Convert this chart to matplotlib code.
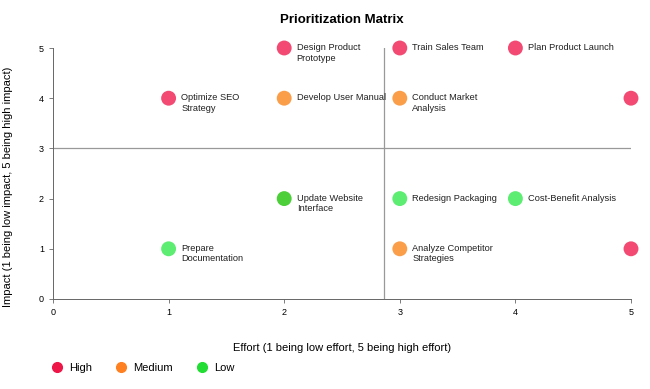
import matplotlib.pyplot as plt
from matplotlib import rcParams
rcParams['font.family'] = ['Liberation Sans', 'DejaVu Sans']

tasks = ['Optimize SEO\nStrategy', 'Design Product\nPrototype', 'Develop User Manual',
         'Train Sales Team', 'Conduct Market\nAnalysis', 'Plan Product Launch', '',
         'Update Website\nInterface', 'Redesign Packaging', 'Cost-Benefit Analysis',
         'Prepare\nDocumentation', 'Analyze Competitor\nStrategies', '']
effort = [1, 2, 2, 3, 3, 4, 5, 2, 3, 4, 1, 3, 5]
impact = [4, 5, 4, 5, 4, 5, 4, 2, 2, 2, 1, 1, 1]
priority = ['High', 'High', 'Medium', 'High', 'Medium', 'High', 'High',
            'Low', 'Low', 'Low', 'Low', 'Medium', 'High']
dot_colors = ['#f24a72', '#f24a72', '#fb9e4a', '#f24a72', '#fb9e4a', '#f24a72', '#f24a72',
              '#4dcf3a', '#5eed73', '#5eed73', '#5eed73', '#fb9e4a', '#f24a72']
effort_split = 2.86
impact_split = 3

legend_names = ['High', 'Medium', 'Low']
legend_colors = ['#ee1547', '#ff8020', '#22dd33']

fig = plt.figure(figsize=(6.5, 3.89), dpi=100)
ax = fig.add_axes([53/650, 1-299/389, 578/650, 251/389])

ax.scatter(effort, impact, s=115, c=dot_colors, zorder=3, clip_on=False, linewidths=0)
for t, x, y in zip(tasks, effort, impact):
    ax.annotate(t, (x, y), xytext=(9, 3.5), textcoords='offset points',
                fontsize=6.7, va='top', ha='left', color='#222222', linespacing=1.2)

ax.axvline(effort_split, color='#999999', lw=0.9)
ax.axhline(impact_split, color='#999999', lw=0.9)

ax.set_xlim(0, 5)
ax.set_ylim(0, 5)
ax.set_xticks(range(6))
ax.set_yticks(range(6))
ax.tick_params(labelsize=6.5, length=3, color='#666666', width=0.6)
for s in ['top', 'right']:
    ax.spines[s].set_visible(False)
for s in ['left', 'bottom']:
    ax.spines[s].set_color('#666666')
    ax.spines[s].set_linewidth(0.7)

ax.set_title('Prioritization Matrix', fontsize=9.5, fontweight='bold', pad=18)
ax.set_xlabel('Effort (1 being low effort, 5 being high effort)', fontsize=8, labelpad=19)
fig.text(8/650, 1-187/389, 'Impact (1 being low impact, 5 being high impact)', fontsize=8,
         rotation=90, ha='center', va='center')

handles = [plt.Line2D([], [], marker='o', ls='', color=c, markersize=7) for c in legend_colors]
fig.legend(handles, legend_names, loc='center left', bbox_to_anchor=(36/650, 1-368/389),
           ncol=3, frameon=False, fontsize=8, handletextpad=0.1, columnspacing=1.6)

fig.savefig('out.png', dpi=100)
